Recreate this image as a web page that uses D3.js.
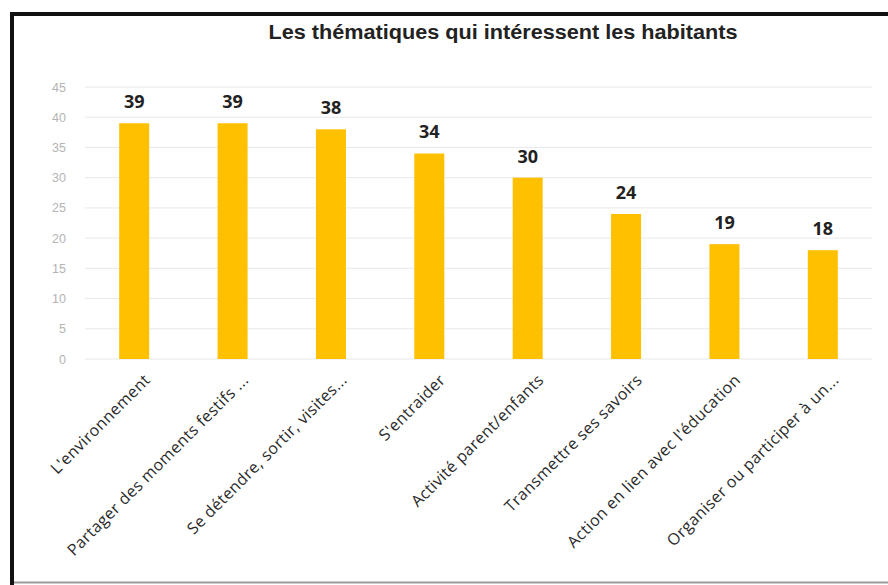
<!DOCTYPE html>
<html>
<head>
<meta charset="utf-8">
<script src="https://cdn.jsdelivr.net/npm/d3@7"></script>
<style>
  html, body { margin: 0; padding: 0; background: #fff; }
  svg { display: block; }
</style>
</head>
<body>
<script>
// Thèmes proposés et nombre d'habitants intéressés
const categories = [
  "L'environnement",
  "Partager des moments festifs ...",
  "Se détendre, sortir, visites...",
  "S'entraider",
  "Activité parent/enfants",
  "Transmettre ses savoirs",
  "Action en lien avec l'éducation",
  "Organiser ou participer à un..."
];
const values = [39, 39, 38, 34, 30, 24, 19, 18];
const yTicks = [0, 5, 10, 15, 20, 25, 30, 35, 40, 45];
const title = "Les thématiques qui intéressent les habitants";

const W = 888, H = 585;
const plot = { left: 85, right: 872, top: 87, bottom: 359 };

const svg = d3.select("body").append("svg")
  .attr("width", W).attr("height", H);

// cadre
svg.append("rect").attr("x", 0).attr("y", 0).attr("width", W).attr("height", H).attr("fill", "#fff");
svg.append("line").attr("x1", 12).attr("x2", W).attr("y1", 14).attr("y2", 14)
  .attr("stroke", "#111").attr("stroke-width", 4);
svg.append("line").attr("x1", 12).attr("x2", 12).attr("y1", 12).attr("y2", H)
  .attr("stroke", "#111").attr("stroke-width", 4);
svg.append("line").attr("x1", 14).attr("x2", W).attr("y1", 582.5).attr("y2", 582.5)
  .attr("stroke", "#999").attr("stroke-width", 2);

const x = d3.scaleBand().domain(categories)
  .range([plot.left, plot.right]).paddingInner(0.695).paddingOuter(0.3475);
const y = d3.scaleLinear().domain([0, 45]).range([plot.bottom, plot.top]);

// grille horizontale
svg.append("g").selectAll("line").data(yTicks).join("line")
  .attr("x1", plot.left).attr("x2", plot.right)
  .attr("y1", d => y(d)).attr("y2", d => y(d))
  .attr("stroke", "#e6e8ec").attr("stroke-width", 1);

// axe des valeurs
const yAxis = svg.append("g")
  .attr("transform", `translate(${plot.left - 19},0)`)
  .call(d3.axisLeft(y).tickValues(yTicks).tickSize(0).tickPadding(0));
yAxis.select(".domain").remove();
yAxis.selectAll("text")
  .attr("fill", "#b4b4b4")
  .style("font-family", "'Liberation Sans', sans-serif")
  .style("font-size", "12.5px");

// barres
svg.append("g").selectAll("rect").data(values).join("rect")
  .attr("x", (d, i) => x(categories[i]))
  .attr("width", x.bandwidth())
  .attr("y", d => y(d))
  .attr("height", d => y(0) - y(d))
  .attr("fill", "#FFC000");

// étiquettes de valeurs
svg.append("g").selectAll("text").data(values).join("text")
  .attr("x", (d, i) => x(categories[i]) + x.bandwidth() / 2)
  .attr("y", d => y(d) - 15)
  .attr("text-anchor", "middle")
  .attr("fill", "#222")
  .style("font-family", "'Open Sans', sans-serif")
  .style("font-weight", "bold")
  .style("font-size", "18px")
  .text(d => d);

// libellés des catégories, inclinés
svg.append("g").selectAll("text").data(categories).join("text")
  .attr("transform", d => `translate(${x(d) + x.bandwidth() / 2 + 17},${plot.bottom + 22}) rotate(-45)`)
  .attr("text-anchor", "end")
  .attr("fill", "#2a2a2a")
  .style("font-family", "'Open Sans', sans-serif")
  .style("font-size", "16px")
  .style("letter-spacing", "0.4px")
  .text(d => d);

// titre
svg.append("text")
  .attr("x", 503).attr("y", 39)
  .attr("text-anchor", "middle")
  .attr("fill", "#222")
  .style("font-family", "'Liberation Sans', sans-serif")
  .style("font-weight", "bold")
  .style("font-size", "20px")
  .attr("textLength", 469)
  .attr("lengthAdjust", "spacingAndGlyphs")
  .text(title);
</script>
</body>
</html>
